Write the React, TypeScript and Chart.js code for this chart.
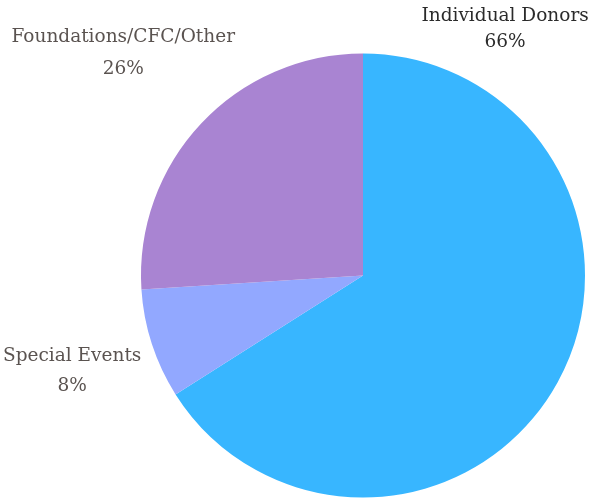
import React, { useEffect, useRef } from "react";
import { Chart, registerables } from "chart.js";

Chart.register(...registerables);

const categories = ["Individual Donors", "Special Events", "Foundations/CFC/Other"];
const values = [66, 8, 26];
const colors = ["#38b6ff", "#92a8ff", "#a984d2"];
const labelColors = ["#2b2b2b", "#5a5350", "#5a5350"];
// label anchor offsets relative to pie center, in units of radius
const labelAnchors = [
  { fx: 0.64, fy: -1.17, gap: 26 },
  { fx: -1.31, fy: 0.365, gap: 30 },
  { fx: -1.08, fy: -1.075, gap: 32 },
];

const outLabels = {
  id: "outLabels",
  afterDraw(chart: any) {
    const meta = chart.getDatasetMeta(0);
    const ctx = chart.ctx;
    const total = values.reduce((a, b) => a + b, 0);
    ctx.save();
    ctx.font = "18.5px 'DejaVu Serif'";
    ctx.textAlign = "center";
    ctx.textBaseline = "middle";
    meta.data.forEach((arc: any, i: number) => {
      const { x, y, outerRadius } = arc.getProps(["x", "y", "outerRadius"], true);
      const a = labelAnchors[i];
      const lx = x + a.fx * outerRadius;
      const ly = y + a.fy * outerRadius;
      ctx.fillStyle = labelColors[i];
      ctx.fillText(categories[i], lx, ly);
      ctx.fillText(Math.round((values[i] / total) * 100) + "%", lx, ly + a.gap);
    });
    ctx.restore();
  },
};

export default function App() {
  const ref = useRef<HTMLCanvasElement>(null);
  useEffect(() => {
    const chart = new Chart(ref.current!, {
      type: "pie",
      data: {
        labels: categories,
        datasets: [
          {
            data: values,
            backgroundColor: colors,
            borderWidth: 0,
          },
        ],
      },
      options: {
        animation: false,
        responsive: true,
        maintainAspectRatio: false,
        layout: { padding: { left: 141, right: 4, top: 53.5, bottom: 4.5 } },
        plugins: { legend: { display: false }, tooltip: { enabled: false } },
      },
      plugins: [outLabels],
    });
    return () => chart.destroy();
  }, []);
  return (
    <div style={{ position: "absolute", left: 0, top: 0, width: 589, height: 502, background: "#fff" }}>
      <canvas ref={ref} />
    </div>
  );
}
